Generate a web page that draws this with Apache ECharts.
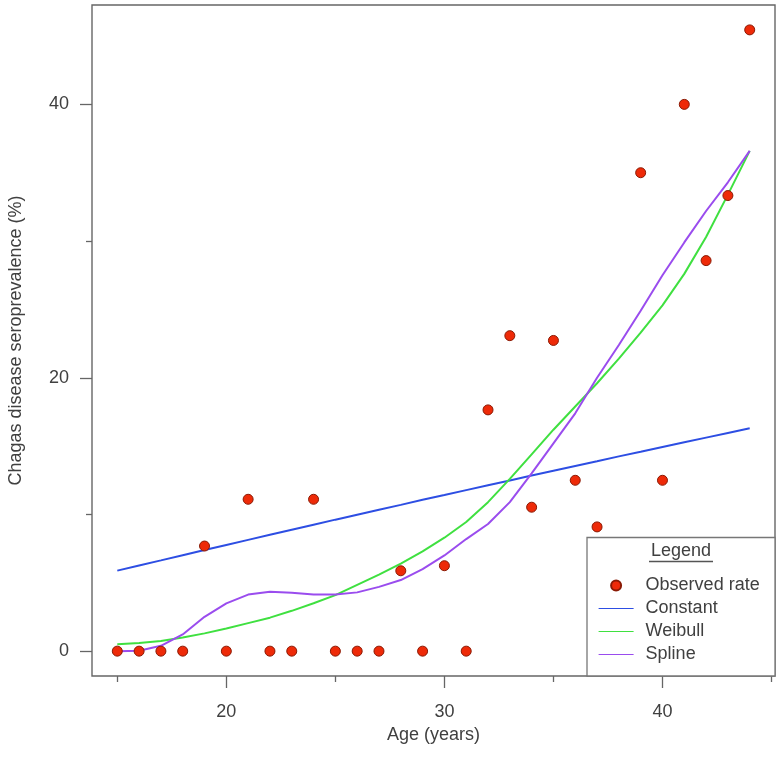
<!DOCTYPE html>
<html><head><meta charset="utf-8">
<script src="https://cdn.jsdelivr.net/npm/echarts@6/dist/echarts.min.js"></script>
<style>html,body{margin:0;padding:0;background:#fff}#chart{width:780px;height:772px}</style>
</head><body><div id="chart"></div>
<script>
// ---- data ----
const observedAges = [15,16,17,18,19,20,21,22,23,24,25,26,27,28,29,30,31,32,33,34,35,36,37,39,40,41,42,43,44];
const observedRate = [0,0,0,0,7.69,0,11.11,0,0,11.11,0,0,0,5.88,0,6.25,0,17.65,23.08,10.53,22.73,12.5,9.09,35.0,12.5,40.0,28.57,33.33,45.45];
const fitAges = [15,16,17,18,19,20,21,22,23,24,25,26,27,28,29,30,31,32,33,34,35,36,37,38,39,40,41,42,43,44];
const constantFit = [5.89,6.27,6.64,7.02,7.40,7.77,8.14,8.51,8.88,9.25,9.62,9.98,10.34,10.70,11.07,11.42,11.78,12.14,12.49,12.85,13.20,13.55,13.89,14.25,14.59,14.94,15.28,15.62,15.96,16.30];
const weibullFit = [0.5,0.6,0.75,1.0,1.3,1.65,2.05,2.45,2.95,3.5,4.1,4.85,5.6,6.4,7.3,8.3,9.45,10.9,12.6,14.4,16.2,17.9,19.6,21.4,23.3,25.3,27.6,30.3,33.4,36.6];
const splineFit = [0,0.03,0.39,1.22,2.51,3.49,4.14,4.34,4.27,4.14,4.14,4.3,4.7,5.2,6.0,7.0,8.2,9.3,10.9,13.0,15.2,17.4,20.0,22.4,24.9,27.5,29.9,32.2,34.3,36.6];
const xMajorTicks = [20,30,40];
const xMinorTicks = [15,25,35,45];
const yMajorTicks = [0,20,40];
const yMinorTicks = [10,30];

const FONT = '"Liberation Sans", Arial, Helvetica, sans-serif';
const TXT = '#404040';
const AX = '#666666';
const pair = (xs, ys) => xs.map((x, i) => [x, ys[i]]);
const X_MIN = 13.84, X_MAX = 45.16, Y_MIN = -1.818, Y_MAX = 47.27;

const chart = echarts.init(document.getElementById('chart'), null, {renderer: 'canvas'});
const tickAxisBase = {
  type: 'value', splitLine: {show: false},
  axisLine: {show: false, onZero: false}
};
const option = {
  animation: false,
  backgroundColor: '#ffffff',
  grid: {left: 92, right: 5, top: 5, bottom: 96, show: true, borderColor: AX, borderWidth: 1.4,
         backgroundColor: 'transparent', containLabel: false, outerBoundsMode: 'none'},
  xAxis: [Object.assign({}, tickAxisBase, {
    min: X_MIN, max: X_MAX, position: 'bottom',
    name: 'Age (years)', nameLocation: 'middle', nameGap: 44,
    nameTextStyle: {fontFamily: FONT, fontSize: 18, color: TXT},
    axisTick: {show: true, customValues: xMajorTicks, length: 12, lineStyle: {color: AX, width: 1.3}},
    axisLabel: {customValues: xMajorTicks, margin: 27, fontFamily: FONT, fontSize: 18, color: TXT}
  }), Object.assign({}, tickAxisBase, {
    min: X_MIN, max: X_MAX, position: 'bottom',
    axisTick: {show: true, customValues: xMinorTicks, length: 6, lineStyle: {color: AX, width: 1.3}},
    axisLabel: {show: false}
  })],
  yAxis: [Object.assign({}, tickAxisBase, {
    min: Y_MIN, max: Y_MAX, position: 'left',
    name: 'Chagas disease seroprevalence (%)', nameLocation: 'middle', nameGap: 67, nameRotate: 90,
    nameTextStyle: {fontFamily: FONT, fontSize: 18, color: TXT},
    axisTick: {show: true, customValues: yMajorTicks, length: 12, lineStyle: {color: AX, width: 1.3}},
    axisLabel: {customValues: yMajorTicks, margin: 23, fontFamily: FONT, fontSize: 18, color: TXT}
  }), Object.assign({}, tickAxisBase, {
    min: Y_MIN, max: Y_MAX, position: 'left',
    axisTick: {show: true, customValues: yMinorTicks, length: 6, lineStyle: {color: AX, width: 1.3}},
    axisLabel: {show: false}
  })],
  legend: {
    orient: 'vertical', left: 593, top: 569, itemGap: 0,
    itemWidth: 35, itemHeight: 10,
    textStyle: {fontFamily: FONT, fontSize: 18, color: TXT, lineHeight: 23, padding: [0, 0, 0, 7]},
    lineStyle: {width: 1.2},
    data: [
      {name: 'Observed rate'},
      {name: 'Constant', itemStyle: {opacity: 0}},
      {name: 'Weibull', itemStyle: {opacity: 0}},
      {name: 'Spline', itemStyle: {opacity: 0}}
    ],
    z: 5
  },
  graphic: [
    {type: 'rect', z: 3, shape: {x: 587, y: 537.5, width: 188, height: 138.5},
     style: {fill: '#ffffff', stroke: '#777777', lineWidth: 1.3}},
    {type: 'text', z: 4, x: 681, y: 551, style: {text: 'Legend', fontFamily: FONT, fontSize: 18, fill: TXT, align: 'center', verticalAlign: 'middle'}},
    {type: 'line', z: 4, shape: {x1: 649, y1: 561.5, x2: 713, y2: 561.5}, style: {stroke: '#555555', lineWidth: 1.3}}
  ],
  series: [
    {name: 'Constant', type: 'line', data: pair(fitAges, constantFit), symbol: 'none', smooth: false,
     lineStyle: {color: '#2d4ee3', width: 2}, itemStyle: {color: '#2d4ee3'}, z: 2},
    {name: 'Weibull', type: 'line', data: pair(fitAges, weibullFit), symbol: 'none', smooth: false,
     lineStyle: {color: '#3fe040', width: 2}, itemStyle: {color: '#3fe040'}, z: 2},
    {name: 'Spline', type: 'line', data: pair(fitAges, splineFit), symbol: 'none', smooth: false,
     lineStyle: {color: '#9a4cee', width: 2}, itemStyle: {color: '#9a4cee'}, z: 2},
    {name: 'Observed rate', type: 'scatter', data: pair(observedAges, observedRate), symbol: 'circle', symbolSize: 10,
     itemStyle: {color: '#ee2a08', borderColor: '#8a1a05', borderWidth: 1, opacity: 1}, z: 2}
  ]
};
chart.setOption(option);
</script></body></html>
